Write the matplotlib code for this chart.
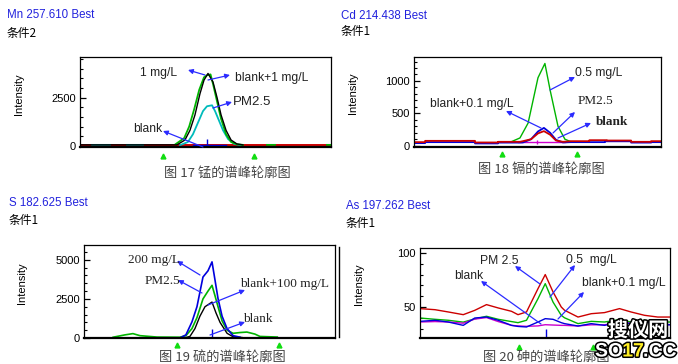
# ICP spectral peak profiles, four elements
import numpy as np
import matplotlib.pyplot as plt
from matplotlib.ticker import MultipleLocator
import matplotlib.patheffects as pe
from matplotlib.lines import Line2D

nan = np.nan

# ---------------- data (x = position across the scan window, 0..100) -------------
# Mn 257.610
mn_x_black = [0, 38.6, 41.8, 43.8, 45.8, 47.8, 49.4, 51.0, 53.0, 54.6, 56.2, 58.2, 60.2, 62.5, 64.9]
mn_black = [50, 50, 300, 800, 1600, 2700, 3400, 3750, 3300, 2500, 1600, 800, 300, 100, 50]
mn_x_green = [38.0, 41.5, 43.5, 45.5, 47.5, 49.4, 50.5, 52.0, 53.0, 54.6, 56.2, 58.2, 60.2, 62.5, 64.9,
              nan, 74.5, 77.7, nan, 98.4, 100]
mn_green = [80, 400, 1000, 1900, 2900, 3550, 3650, 3700, 3200, 2300, 1400, 600, 200, 80, 50,
            nan, 50, 50, nan, 50, 50]
mn_x_cyan = [4.8, 12.0, nan, 18.7, 25.1, nan, 39.8, 43.0, 45.0, 47.0, 49.0, 50.6, 52.6, 53.8, 55.4,
             57.0, 59.0, 61.4, 64.1]
mn_cyan = [50, 50, nan, 50, 50, nan, 30, 200, 600, 1200, 1800, 2050, 2100, 1800, 1300,
           800, 350, 100, 30]
mn_x_red = [0, 100]
mn_red = [50, 50]
mn_x_blue = [45.0, 58.2]
mn_blue = [30, 30]
mn_center, mn_center_h = 50.6, 350
mn_window = [33.1, 69.3]

# Cd 214.438
cd_x_green = [39.3, 42.9, 46.2, 50.2, 53.0, 55.1, 58.3, 61.1, 63.6]
cd_green = [60, 120, 350, 1050, 1270, 860, 300, 100, 60]
cd_x_red = [0, 4.5, 4.5, 24.7, 24.7, 34, 34, 42.9, 44.1, 47.4, 50.2, 52.6, 55.1, 57.5, 60.3,
            63.6, 71, 71, 78, 78, 87.9, 87.9, 96, 96, 100]
cd_red = [55, 55, 75, 75, 50, 50, 60, 60, 70, 100, 190, 225, 170, 80, 60,
          70, 70, 85, 85, 80, 80, 60, 60, 70, 70]
cd_x_blue = [0, 4.5, 4.5, 24.7, 24.7, 34, 34, 42.9, 44.1, 47.4, 50.2, 52.6, 55.1, 57.5, 60.3,
             63.6, 77.3, 77.3, 87.9, 87.9, 96, 96, 100]
cd_blue = [40, 40, 55, 55, 35, 35, 48, 48, 50, 100, 220, 275, 200, 90, 50,
           55, 55, 68, 68, 48, 48, 55, 55]
cd_x_magenta = [42.1, 61.1]
cd_magenta = [60, 60]
cd_center, cd_center_h = 49.8, 90
cd_window = [35.8, 66.1]

# S 182.625
s_x_blue = [38.2, 40.6, 43.0, 45.0, 47.4, 49.4, 51.0, 52.2, 53.4, 55.0, 57.0, 59.4, 62.2]
s_blue = [0, 200, 1025, 2000, 3900, 4300, 4870, 3700, 2520, 1400, 600, 150, 50]
s_x_green = [11.6, 16.3, 19.5, 22.3, 29.1, 38.2, 40.6, 43.0, 45.0, 47.4, 49.4, 51.0, 52.2, 53.4,
             55.0, 57.0, 59.4, 62.2, 64.9, 68.1, 70.1, 77.0]
s_green = [50, 200, 280, 150, 60, 50, 150, 600, 1300, 2500, 3000, 3370, 2700, 2000,
           1100, 500, 300, 350, 380, 250, 100, 60]
s_x_black = [39.8, 42.2, 44.2, 46.2, 48.2, 51.0, 52.6, 54.2, 57.0, 59.4, 63.0]
s_black = [0, 100, 600, 1400, 2000, 2300, 1600, 1000, 300, 80, 30]
s_x_cyan = [11.6, 76.9]
s_cyan = [30, 30]
s_center, s_center_h = 51.0, 600
s_window = [37.0, 77.7]

# As 197.262
as_x = [0, 6, 11.3, 17.3, 21.9, 26.6, 31.3, 36.6, 39.2, 42.6, 47.2, 50.1, 53.2, 56.5, 57.8,
        63.2, 68.5, 73.8, 79.8, 84.4, 89.8, 95.1, 100]
as_red = [48.5, 47.5, 45.4, 42.9, 46.9, 52.2, 49.1, 46.0, 42.9, 45.4, 67.0, 80.0, 64.0, 50.0, 47.0,
          40.7, 43.8, 44.8, 48.5, 45.4, 42.3, 40.7, 40.7]
as_green = [39.8, 38.6, 37.7, 36.0, 39.0, 41.4, 38.6, 36.5, 35.5, 37.7, 57.7, 71.6, 54.6, 42.3, 40.0,
            34.6, 36.7, 36.1, 38.3, 36.1, 37.7, 36.1, 36.1]
as_blue = [36.7, 37.7, 36.1, 33.0, 39.8, 40.7, 37.7, 33.0, 32.0, 31.5, 36.1, 39.2, 38.6, 35.5, 34.6,
           32.4, 34.6, 33.0, 36.1, 34.6, 36.7, 33.0, 33.6]
as_magenta = [36.1, 36.5, 36.1, 35.0, 38.8, 40.2, 36.5, 33.0, 32.5, 32.1, 32.5, 33.6, 33.3, 33.0, 33.0,
              32.4, 33.5, 33.5, 36.1, 35.0, 36.7, 34.5, 33.6]
as_center, as_center_h = 50.5, 30
as_window = [39.6, 69.1]

# ---------------- figure ----------------
W, H = 678, 364
plt.rcParams['font.family'] = ['Liberation Sans', 'Noto Sans CJK SC', 'DejaVu Sans']
fig = plt.figure(figsize=(W / 100, H / 100), dpi=100)
fig.patch.set_facecolor('white')

BLUE_T = '#2222dd'
ARROW = '#2b2bff'
GREEN = '#00b400'
RED = '#cc0000'
BLU = '#0000dd'
CYAN = '#00bbbb'
MAG = '#cc00cc'
TRI = '#11dd11'


def fp(x, y):
    return (x / W, 1 - y / H)


def box(l, t, r, b):
    return [l / W, 1 - b / H, (r - l) / W, (b - t) / H]


def make_axes(rect, ylim, major, minor, window, tri_y):
    ax = fig.add_axes(rect)
    ax.set_xlim(0, 100)
    ax.set_ylim(*ylim)
    ax.set_xticks([])
    ax.yaxis.set_major_locator(MultipleLocator(major))
    ax.yaxis.set_minor_locator(MultipleLocator(minor))
    ax.tick_params(axis='y', which='major', direction='in', length=4, width=0.9,
                   labelsize=8, pad=3)
    ax.tick_params(axis='y', which='minor', direction='in', length=2.5, width=0.8)
    for s in ax.spines.values():
        s.set_linewidth(0.9)
    ax.spines['bottom'].set_linewidth(1.6)
    ax.plot(window, [tri_y, tri_y], '^', color=TRI, ms=3.5, clip_on=False,
            transform=ax.get_xaxis_transform())
    return ax


def label(x, y, s, size=8.7, family=None, weight='normal', color='#222222'):
    kw = {}
    if family:
        kw['family'] = family
    fig.text(*fp(x, y), s, fontsize=size, ha='left', va='center', color=color,
             weight=weight, **kw)


def arrow(head, tail):
    fig.add_artist(plt.matplotlib.patches.FancyArrowPatch(
        fp(*tail), fp(*head), transform=fig.transFigure, arrowstyle='-|>',
        mutation_scale=7, color=ARROW, lw=0.9, shrinkA=0, shrinkB=0))


def header(x, y, name):
    fig.text(*fp(x, y), name, fontsize=8.3, color=BLUE_T, ha='left', va='center')


def cond(x, y, s):
    fig.text(*fp(x, y), s, fontsize=8.5, color='black', ha='left', va='center',
             family=['Noto Sans CJK SC', 'DejaVu Sans'])


def caption(x, y, s):
    fig.text(*fp(x, y), s, fontsize=9.5, color='#444444', ha='center', va='center',
             family=['Noto Sans CJK SC', 'DejaVu Sans'])


def ylab(x, y):
    fig.text(*fp(x, y), 'Intensity', fontsize=8, rotation=90, ha='center', va='center')


LW = 1.0

# ---- Mn ----
ax1 = make_axes(box(80, 57, 331, 147), (-60, 4600), 2500, 500, mn_window, -0.1)
ax1.plot(mn_x_red, mn_red, color=RED, lw=1.4)
ax1.plot(mn_x_cyan, mn_cyan, color=CYAN, lw=LW + 0.3)
ax1.plot(mn_x_green, mn_green, color=GREEN, lw=LW + 0.3)
ax1.plot(mn_x_black, mn_black, color='black', lw=LW)
ax1.plot(mn_x_blue, mn_blue, color=BLU, lw=LW)
ax1.vlines(mn_center, 0, mn_center_h, color=BLU, lw=LW)
header(7, 15, 'Mn 257.610 Best')
cond(7, 33, '条件2')
ylab(19, 94)
caption(227, 173, '图 17 锰的谱峰轮廓图')
label(140, 73, '1 mg/L')
arrow((188, 70), (205, 75))
label(235, 78, 'blank+1 mg/L')
arrow((230, 75), (208, 80))
label(233, 102, 'PM2.5', size=9.5)
arrow((232, 102), (213, 108))
label(133, 129, 'blank')
arrow((163, 131), (203, 147))

# ---- Cd ----
ax2 = make_axes(box(414, 57, 661, 147), (-20, 1370), 500, 100, cd_window, -0.08)
ax2.plot(cd_x_green, cd_green, color=GREEN, lw=LW)
ax2.plot(cd_x_magenta, cd_magenta, color=MAG, lw=LW)
ax2.plot(cd_x_blue, cd_blue, color=BLU, lw=1.3)
ax2.plot(cd_x_red, cd_red, color=RED, lw=1.3)
ax2.vlines(cd_center, 30, cd_center_h, color=MAG, lw=LW)
header(341, 16, 'Cd 214.438 Best')
cond(341, 32, '条件1')
ylab(353, 93)
caption(541, 169, '图 18 镉的谱峰轮廓图')
label(575, 73, '0.5 mg/L')
arrow((575, 77), (550, 90))
label(430, 104, 'blank+0.1 mg/L')
arrow((506, 111), (541, 128))
label(578, 101, 'PM2.5', size=9.5, family='Liberation Serif')
arrow((575, 112), (553, 133))
label(596, 122, 'blank', size=9.5, family='Liberation Serif', weight='bold')
arrow((591, 123), (558, 138))

# ---- S ----
ax3 = make_axes(box(84, 245, 335, 338), (0, 5950), 2500, 500, s_window, -0.075)
ax3.plot(s_x_cyan, s_cyan, color=CYAN, lw=1.3)
ax3.plot(s_x_green, s_green, color=GREEN, lw=LW + 0.2)
ax3.plot(s_x_black, s_black, color='black', lw=LW)
ax3.plot(s_x_blue, s_blue, color=BLU, lw=LW + 0.2)
ax3.vlines(s_center, 0, s_center_h, color=BLU, lw=LW)
header(9, 203, 'S 182.625 Best')
cond(9, 221, '条件1')
ylab(22, 283)
caption(222, 357, '图 19 硫的谱峰轮廓图')
label(128, 260, '200 mg/L', size=9.5, family='Liberation Serif')
arrow((177, 261), (200, 275))
label(145, 281, 'PM2.5', size=9.5, family='Liberation Serif')
arrow((178, 280), (202, 293))
label(240, 284, 'blank+100 mg/L', size=9.5, family='Liberation Serif')
arrow((245, 290), (208, 305))
label(243, 319, 'blank', size=9.5, family='Liberation Serif')
arrow((245, 322), (210, 335))

# ---- As ----
ax4 = make_axes(box(420, 248, 670, 338), (21.3, 104.6), 50, 10, as_window, -0.1)
ax4.plot(as_x, as_red, color=RED, lw=LW)
ax4.plot(as_x, as_green, color=GREEN, lw=LW)
ax4.plot(as_x, as_magenta, color=MAG, lw=LW)
ax4.plot(as_x, as_blue, color=BLU, lw=LW)
ax4.vlines(as_center, 21.3, as_center_h, color=BLU, lw=LW)
header(346, 206, 'As 197.262 Best')
cond(346, 224, '条件1')
ylab(359, 284)
caption(546, 357, '图 20 砷的谱峰轮廓图')
label(480, 261, 'PM 2.5')
arrow((515, 266), (540, 284))
label(566, 260, '0.5  mg/L')
arrow((575, 265), (550, 297))
label(454, 276, 'blank')
arrow((481, 281), (541, 324))
label(582, 283, 'blank+0.1 mg/L')
arrow((584, 292), (558, 319))

# frame edge left over between the lower panels
fig.add_artist(Line2D([339 / W, 339 / W], [1 - 247 / H, 1 - 337 / H], color='black', lw=1.0,
                      transform=fig.transFigure))

# watermark
stroke = [pe.withStroke(linewidth=2.2, foreground='black')]
fig.text(*fp(638, 330), '搜仪网', fontsize=14.5, weight='bold', color='white', ha='center',
         va='center', family=['Noto Sans CJK SC', 'DejaVu Sans'], path_effects=stroke, zorder=5)
renderer = fig.canvas.get_renderer()
xpos = 595
for part, col in [('SO', 'white'), ('17', '#ffee22'), ('.CC', 'white')]:
    t = fig.text(*fp(xpos, 352), part, fontsize=14, weight='bold', color=col, ha='left',
                 va='center', path_effects=stroke, zorder=5)
    xpos += t.get_window_extent(renderer).width - 1

fig.savefig('out.png', dpi=100)
